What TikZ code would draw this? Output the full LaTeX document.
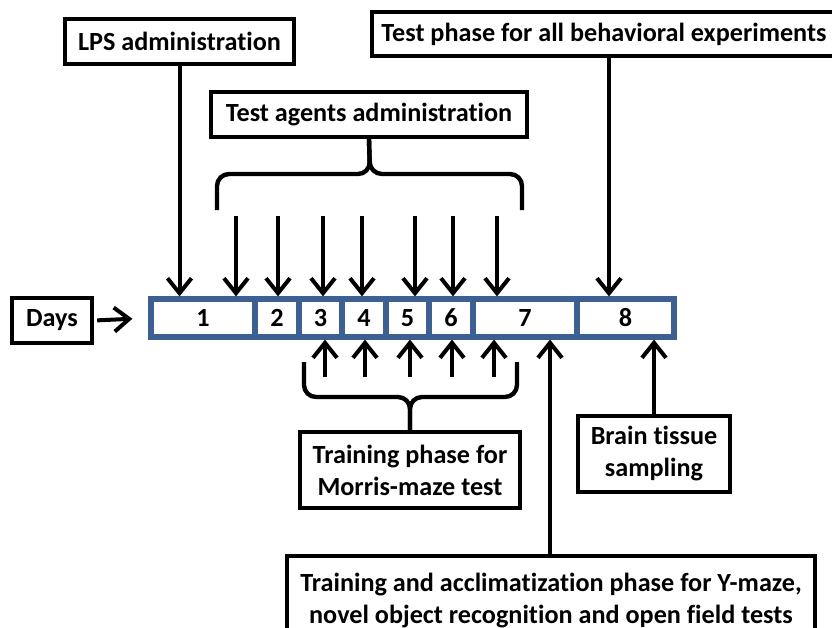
\documentclass[tikz,border=0pt]{standalone}
\usepackage{fontspec}
\setmainfont[Ligatures={NoCommon}]{Carlito}
\usetikzlibrary{arrows.meta}
\definecolor{dayblue}{RGB}{60,96,145}
\tikzset{
    lbl/.style={draw,line width=2.2pt,font=\bfseries\fontsize{13.1}{16}\selectfont,align=center,inner sep=0pt},
    daycell/.style={draw=dayblue,line width=2.6pt,fill=white,inner sep=0pt,minimum height=19pt,font=\bfseries\fontsize{13.1}{14}\selectfont},
    arr/.style={line width=2pt,-{Straight Barb[length=7.5pt,width=12pt]}},
    brace/.style={line width=2.2pt,rounded corners=6pt}
}

\begin{document}
\begin{tikzpicture}[x=0.5pt,y=-0.5pt]
                \useasboundingbox (0,0) rectangle (832,628);
                \clip (0,0) rectangle (832,628);
                % day cells of the time line
                \foreach \n/\a/\b in {1/151/255,2/255/299,3/299/342,4/342/386,5/386/429,6/429/473,7/473/577,8/577/674}{
                    \node[daycell,minimum width={(\b-\a)*0.5pt}] (d\n) at ({(\a+\b)/2},318) {\n};
                }
                % boxes
                \node[lbl,minimum width=114.5pt,minimum height=22.5pt] (lps) at (179.5,41.5) {LPS administration};
                \node[lbl,minimum width=232pt,minimum height=22pt] (tphase) at (604,34) {Test phase for all behavioral experiments};
                \node[lbl,minimum width=158pt,minimum height=22.5pt] (agents) at (369,114.5) {Test agents administration};
                \node[lbl,minimum width=40pt,minimum height=22.5pt] (days) at (52,320.5) {Days};
                \node[lbl,minimum width=110pt,minimum height=38pt] (training) at (410,470) {Training phase for\\Morris-maze test};
                \node[lbl,minimum width=76pt,minimum height=38pt] (brain) at (654,454) {Brain tissue\\sampling};
                \node[lbl,minimum width=264pt,minimum height=45pt] (acclim) at (551,601) {Training and acclimatization phase for Y-maze,\\novel object recognition and open field tests};
                % arrows down onto the time line
                \draw[arr] (lps.south) -- (lps.south |- d1.north);
                \draw[arr] (609,0 |- tphase.south) -- (609,0 |- d8.north);
                \foreach \x in {236,278,323,362,415,453,497}{
                    \draw[arr] (\x,216) -- (\x,0 |- d1.north);
                }
                % arrows up onto the time line
                \foreach \x in {325,365,410,452,494}{
                    \draw[arr] (\x,377) -- (\x,0 |- d1.south);
                }
                \draw[arr] (550,0 |- acclim.north) -- (550,0 |- d7.south);
                \draw[arr] (brain.north) -- (brain.north |- d8.south);
                \draw[arr,shorten <=1.5pt,shorten >=8pt] (days.east) -- (d1.west);
                % braces
                \draw[brace] (217,210) |- (370,174) -- (agents.south);
                \draw[brace] (522,210) |- (370,174) -- (agents.south);
                \draw[brace] (304,362) |- (410,397) -- (training.north);
                \draw[brace] (517,362) |- (410,397) -- (training.north);
            \end{tikzpicture}
\end{document}
